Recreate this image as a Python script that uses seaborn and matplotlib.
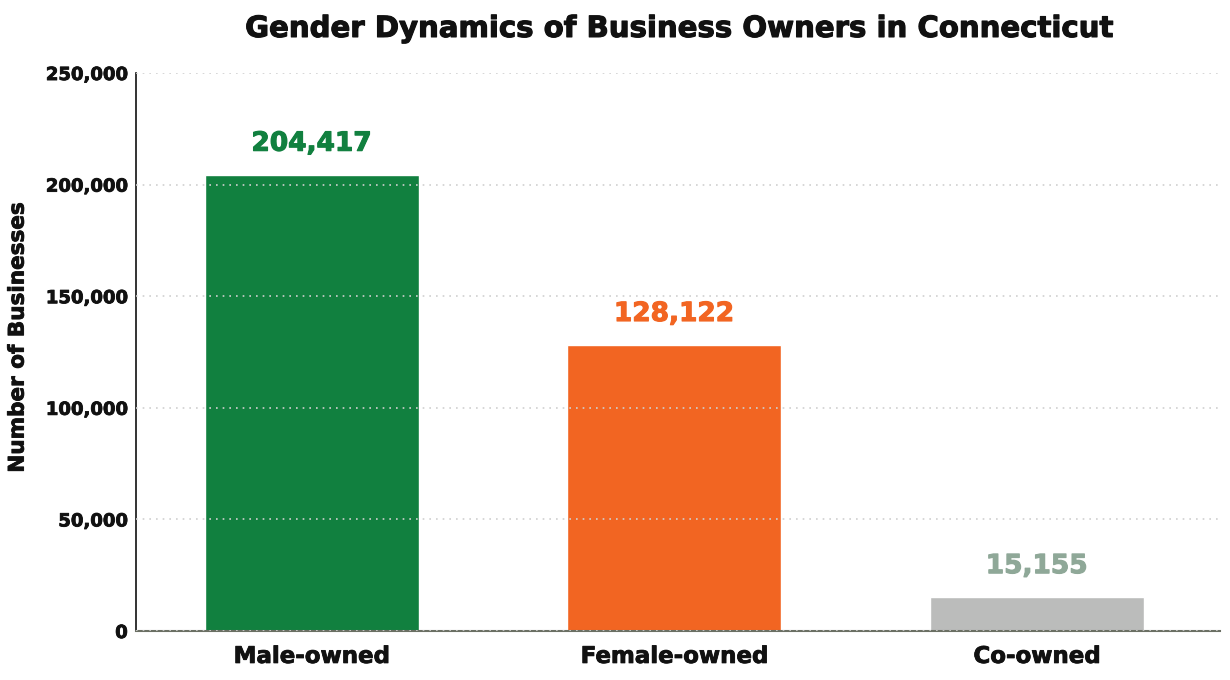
import matplotlib
matplotlib.use("Agg")
import matplotlib.pyplot as plt
import matplotlib.patheffects as pe
import seaborn as sns
import pandas as pd
from matplotlib.ticker import FuncFormatter

categories = ["Male-owned", "Female-owned", "Co-owned"]
values = [204417, 128122, 15155]
bar_colors = ["#11803f", "#f26522", "#bbbcbb"]
label_colors = ["#11803f", "#f26522", "#8fa898"]
yticks = [0, 50000, 100000, 150000, 200000, 250000]

sns.set_theme(style="white")
plt.rcParams['font.family'] = ['DejaVu Sans']
plt.rcParams['font.weight'] = 'bold'


def thick(color, w=0.7):
    return [pe.withStroke(linewidth=w, foreground=color)]


df = pd.DataFrame({"category": categories, "value": values})

fig = plt.figure(figsize=(12.3, 6.8), dpi=100)
ax = fig.add_axes([0.1106, 0.072, 0.8813, 0.8206])

sns.barplot(data=df, x="category", y="value", hue="category", palette=bar_colors,
            width=0.59, legend=False, ax=ax, saturation=1, zorder=2)

ax.set_ylim(0, 250000)
ax.set_xlim(-0.484, 2.505)
ax.set_yticks(yticks)
ax.yaxis.set_major_formatter(FuncFormatter(lambda v, p: f"{int(v):,}"))
ax.grid(axis="y", linestyle=(0, (1, 3)), color="#d0d0d0", linewidth=1.2, zorder=3)
ax.set_axisbelow(False)
for b in ax.patches:
    b.set_zorder(1)

for sp in ["top", "right"]:
    ax.spines[sp].set_visible(False)
ax.spines["left"].set_color("#111111")
ax.spines["left"].set_linewidth(1.2)
ax.spines["bottom"].set_color("#6b7064")
ax.spines["bottom"].set_linewidth(1.5)

ax.tick_params(axis="y", direction="in", length=8, width=1.3, color="#111111",
               labelsize=13, pad=6, labelcolor="#111111")
ax.tick_params(axis="x", length=0, labelsize=16.5, pad=10, labelcolor="#111111")
for t in ax.get_yticklabels() + ax.get_xticklabels():
    t.set_fontweight("bold")
    t.set_path_effects(thick("#111111", 0.6))

ax.set_xlabel("")
ax.set_ylabel("Number of Businesses", fontsize=15.5, fontweight="bold",
              color="#111111", path_effects=thick("#111111", 0.6))
ax.yaxis.set_label_coords(-0.1, 0.526)

for i, (v, c) in enumerate(zip(values, label_colors)):
    ax.annotate(f"{v:,}", xy=(i, v), xytext=(0, 13), textcoords="offset points",
                ha="center", va="bottom", fontsize=19, fontweight="bold", color=c,
                path_effects=thick(c, 0.8))

fig.suptitle("Gender Dynamics of Business Owners in Connecticut", x=0.552, y=0.978,
             fontsize=21, fontweight="bold", color="#111111",
             path_effects=thick("#111111", 0.8))

fig.savefig("out.png", dpi=100, facecolor="white")
